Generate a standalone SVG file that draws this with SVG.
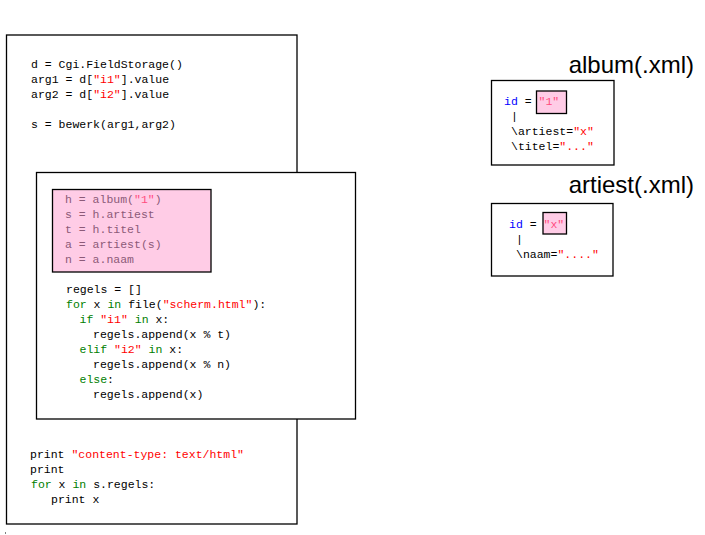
<svg xmlns="http://www.w3.org/2000/svg" width="705" height="535" viewBox="0 0 705 535" xml:space="preserve">
<style>
.box{fill:#fff;stroke:#000;stroke-width:1.3}
.pink{fill:#ffcce6;stroke:#000;stroke-width:1.3}
.c{font-family:"Liberation Mono","DejaVu Sans Mono",monospace;font-size:11.5px;fill:#000;white-space:pre}
.pc{fill:#8c5a78}
.kw{fill:#008000}
.s{fill:#ff0000}
.ps{fill:#ff4d80}
.id{fill:#0000ff}
.title{font-family:"Liberation Sans",Arial,sans-serif;font-size:24px;fill:#000;text-anchor:end}
</style>
<rect x="5" y="532.5" width="1" height="1" fill="#000"/>
<g id="main">
<rect class="box" x="6.5" y="35" width="290.5" height="489"/>
<text class="c" x="31" y="68">d = Cgi.FieldStorage()</text>
<text class="c" x="31" y="83">arg1 = d[<tspan class="s">"i1"</tspan>].value</text>
<text class="c" x="31" y="98">arg2 = d[<tspan class="s">"i2"</tspan>].value</text>
<text class="c" x="31" y="128">s = bewerk(arg1,arg2)</text>
<text class="c" x="30" y="458">print <tspan class="s">"content-type: text/html"</tspan></text>
<text class="c" x="30" y="473">print</text>
<text class="c" x="31" y="488"><tspan class="kw">for</tspan> x <tspan class="kw">in</tspan> s.regels:</text>
<text class="c" x="51" y="503">print x</text>
</g>
<g id="bewerk">
<rect class="box" x="36.5" y="172.5" width="319" height="246.5"/>
<text class="c" x="66" y="293">regels = []</text>
<text class="c" x="66" y="308"><tspan class="kw">for</tspan> x <tspan class="kw">in</tspan> file(<tspan class="s">"scherm.html"</tspan>):</text>
<text class="c" x="79.5" y="323"><tspan class="kw">if</tspan> <tspan class="s">"i1"</tspan> <tspan class="kw">in</tspan> x:</text>
<text class="c" x="93" y="338">regels.append(x % t)</text>
<text class="c" x="79.5" y="353"><tspan class="kw">elif</tspan> <tspan class="s">"i2"</tspan> <tspan class="kw">in</tspan> x:</text>
<text class="c" x="93" y="368">regels.append(x % n)</text>
<text class="c" x="79.5" y="383"><tspan class="kw">else</tspan>:</text>
<text class="c" x="93" y="398">regels.append(x)</text>
</g>
<g id="lookup">
<rect class="pink" x="52.5" y="189.5" width="158.5" height="82.5"/>
<text class="c pc" x="65" y="203">h = album(<tspan class="ps">"1"</tspan>)</text>
<text class="c pc" x="65" y="218">s = h.artiest</text>
<text class="c pc" x="65" y="233">t = h.titel</text>
<text class="c pc" x="65" y="248">a = artiest(s)</text>
<text class="c pc" x="65" y="263">n = a.naam</text>
</g>
<g id="album">
<text class="title" x="694" y="73">album(.xml)</text>
<rect class="box" x="491.5" y="80.5" width="122.5" height="84.5"/>
<rect class="pink" x="536.5" y="91" width="30" height="22.5"/>
<text class="c" x="504" y="105"><tspan class="id">id</tspan> = <tspan class="ps">"1"</tspan></text>
<text class="c" x="511" y="120">|</text>
<text class="c" x="511" y="135">\artiest=<tspan class="s">"x"</tspan></text>
<text class="c" x="511" y="150">\titel=<tspan class="s">"..."</tspan></text>
</g>
<g id="artiest">
<text class="title" x="694" y="193">artiest(.xml)</text>
<rect class="box" x="491.5" y="203.5" width="121.5" height="72.5"/>
<rect class="pink" x="543" y="212.5" width="23.5" height="21.5"/>
<text class="c" x="509" y="228"><tspan class="id">id</tspan> = <tspan class="ps">"x"</tspan></text>
<text class="c" x="516" y="243">|</text>
<text class="c" x="516" y="258">\naam=<tspan class="s">"...."</tspan></text>
</g>
<g id="connectors"/>
</svg>
